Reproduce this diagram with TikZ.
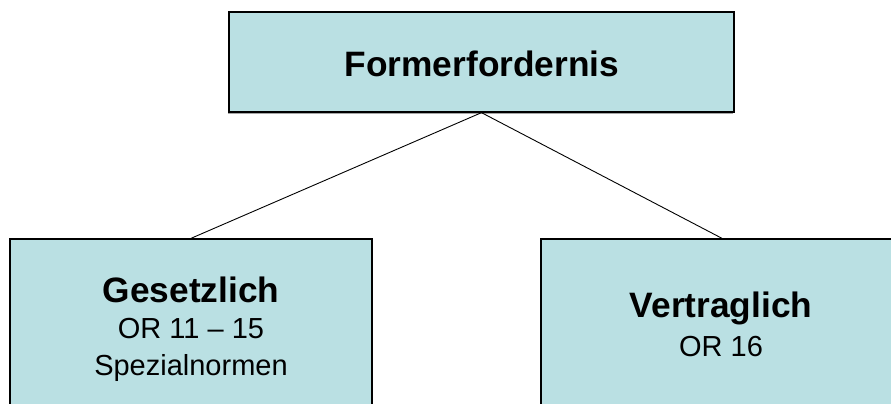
\documentclass[tikz,border=0pt]{standalone}
\usepackage{fontspec}
\setmainfont{Liberation Sans}
\usetikzlibrary{shadows}
\definecolor{boxfill}{RGB}{186,224,227}
\tikzset{
  box/.style={draw=black, line width=1.3pt, fill=boxfill, rectangle, inner sep=0pt,
    drop shadow={shadow xshift=-1pt, shadow yshift=-1.5pt, fill=gray!70, opacity=1}},
  link/.style={draw=black, line width=0.9pt},
  head/.style={anchor=base, inner sep=0pt, font=\fontsize{35.3}{37}\selectfont\bfseries},
  sub/.style={anchor=base, inner sep=0pt, font=\fontsize{29}{32}\selectfont},
}
\begin{document}
\begin{tikzpicture}[x=1pt, y=-1pt]
  \useasboundingbox (0,0) rectangle (891,404);
  \clip (0,0) rectangle (891,404);
  % boxes
  \node[box, minimum width=505pt, minimum height=100pt] (top) at (481.5,62) {};
  \node[box, minimum width=362pt, minimum height=200pt] (left) at (191,339) {};
  \node[box, minimum width=362pt, minimum height=200pt] (right) at (722,339) {};
  % connectors
  \draw[link] (top.south) -- (left.north);
  \draw[link] (top.south) -- (right.north);
  % labels
  \node[head] (t1) at (482,77) {Formerfordernis};
  \node[head] (l1) at (191,302) {Gesetzlich};
  \node[sub] (l2) at (191,338) {OR 11 – 15};
  \node[sub] (l3) at (191,375) {Spezialnormen};
  \node[head] (r1) at (721,317) {Vertraglich};
  \node[sub] (r2) at (721,356) {OR 16};
\end{tikzpicture}
\end{document}
